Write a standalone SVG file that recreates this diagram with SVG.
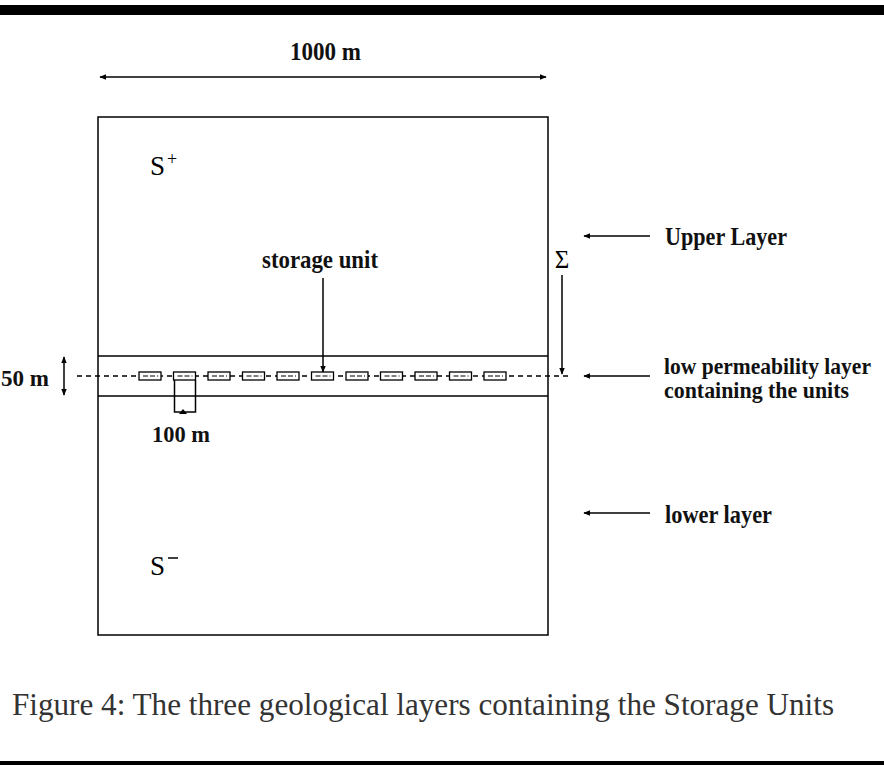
<svg xmlns="http://www.w3.org/2000/svg" width="884" height="765" viewBox="0 0 884 765">
<style>
.ln{stroke:#000;stroke-width:1.5;fill:none}
.lb{font-family:"Liberation Serif",serif;font-weight:bold;fill:#111}
.dash{stroke:#000;stroke-width:1.3;stroke-dasharray:5,4;fill:none}
.unit{fill:#fff;stroke:#000;stroke-width:1.3}
.ud{stroke:#000;stroke-width:1;stroke-dasharray:5,2}
</style>
<defs>
<marker id="ah" viewBox="0 0 10 10" refX="9" refY="5" markerWidth="7" markerHeight="7" orient="auto-start-reverse" markerUnits="userSpaceOnUse">
<path d="M0,1 L10,5 L0,9 z" fill="#000"/>
</marker>
<g id="su">
<rect class="unit" x="0" y="-4" width="22" height="8"/>
<line class="ud" x1="4" y1="0" x2="19" y2="0"/>
</g>
</defs>
<rect x="0" y="5" width="884" height="10" fill="#000"/>
<rect x="0" y="761" width="884" height="4" fill="#000"/>
<g id="outer"><rect class="ln" x="98" y="117" width="450" height="518"/></g>
<g id="band"><line class="ln" x1="98" y1="356" x2="548" y2="356"/><line class="ln" x1="98" y1="396" x2="548" y2="396"/></g>
<g id="connectors">
<line class="ln" x1="100" y1="77" x2="546" y2="77" marker-start="url(#ah)" marker-end="url(#ah)"/>
<line class="ln" x1="64" y1="357" x2="64" y2="395" marker-start="url(#ah)" marker-end="url(#ah)"/>
<line class="ln" x1="323" y1="278" x2="323" y2="372" marker-end="url(#ah)"/>
<line class="ln" x1="562" y1="275" x2="562" y2="374" marker-end="url(#ah)"/>
<line class="ln" x1="650" y1="236" x2="584" y2="236" marker-end="url(#ah)"/>
<line class="ln" x1="650" y1="376" x2="584" y2="376" marker-end="url(#ah)"/>
<line class="ln" x1="650" y1="513" x2="584" y2="513" marker-end="url(#ah)"/>
<path class="ln" d="M174.5,380 V412 H195.5 V380"/>
<path d="M179,414 L183,409 L187,414 z" fill="#000"/>
</g>
<g id="dashed"><line class="dash" x1="77" y1="376" x2="569" y2="376"/></g>
<g id="units">
<use href="#su" x="139" y="376"/><use href="#su" x="173.5" y="376"/><use href="#su" x="208" y="376"/><use href="#su" x="242.5" y="376"/><use href="#su" x="277" y="376"/><use href="#su" x="311.5" y="376"/><use href="#su" x="346" y="376"/><use href="#su" x="380.5" y="376"/><use href="#su" x="415" y="376"/><use href="#su" x="449.5" y="376"/><use href="#su" x="484" y="376"/>
</g>
<g id="labels">
<text class="lb" x="290" y="60" font-size="25" textLength="71" lengthAdjust="spacingAndGlyphs">1000 m</text>
<text x="150" y="175" font-size="27" font-family="Liberation Serif,serif">S</text>
<text x="167" y="165" font-size="18" font-family="Liberation Serif,serif">+</text>
<text x="150" y="575" font-size="27" font-family="Liberation Serif,serif">S</text>
<line x1="168" y1="558" x2="178" y2="558" stroke="#000" stroke-width="1.5"/>
<text class="lb" x="262" y="268" font-size="25" textLength="116" lengthAdjust="spacingAndGlyphs">storage unit</text>
<text x="562" y="268" font-size="25" text-anchor="middle" font-family="Liberation Serif,serif">Σ</text>
<text class="lb" x="665" y="245" font-size="25" textLength="122" lengthAdjust="spacingAndGlyphs">Upper Layer</text>
<text class="lb" x="664" y="374" font-size="23" textLength="207" lengthAdjust="spacingAndGlyphs">low permeability layer</text>
<text class="lb" x="664" y="398" font-size="23" textLength="185" lengthAdjust="spacingAndGlyphs">containing the units</text>
<text class="lb" x="665" y="523" font-size="25" textLength="107" lengthAdjust="spacingAndGlyphs">lower layer</text>
<text class="lb" x="1" y="386" font-size="24" textLength="48" lengthAdjust="spacingAndGlyphs">50 m</text>
<text class="lb" x="152" y="442" font-size="24" textLength="58" lengthAdjust="spacingAndGlyphs">100 m</text>
<text x="12" y="715" font-size="31" font-family="Liberation Serif,serif" fill="#333" textLength="822" lengthAdjust="spacingAndGlyphs">Figure 4: The three geological layers containing the Storage Units</text>
</g>
</svg>
